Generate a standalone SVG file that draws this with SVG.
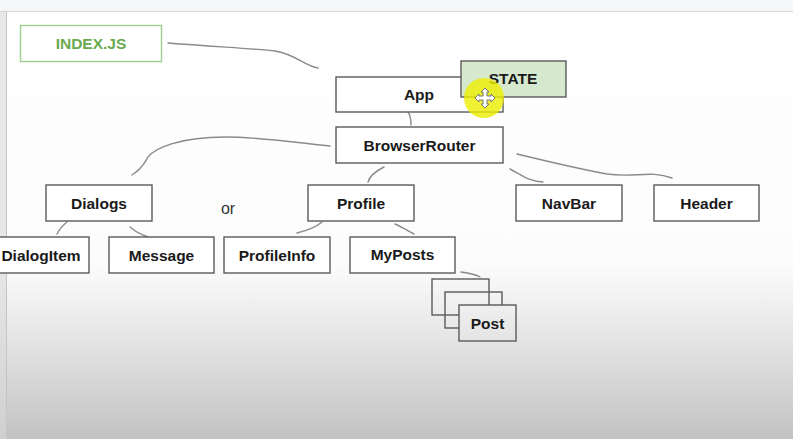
<svg xmlns="http://www.w3.org/2000/svg" width="793" height="439" viewBox="0 0 793 439">
<defs>
<linearGradient id="bg" x1="0" y1="0" x2="0" y2="439" gradientUnits="userSpaceOnUse">
<stop offset="0" stop-color="#ffffff"/>
<stop offset="0.6" stop-color="#fcfcfc"/>
<stop offset="0.72" stop-color="#ececec"/>
<stop offset="1" stop-color="#c3c3c3"/>
</linearGradient>
<style>
.box{fill:#fff;stroke:#5a5a5a;stroke-width:1.4}
.lbl{font-family:"Liberation Sans",Arial,sans-serif;font-weight:bold;font-size:15.5px;fill:#1a1a1a;text-anchor:middle}
.con{fill:none;stroke:#8a8a8a;stroke-width:1.4;stroke-linecap:round}
</style>
</defs>
<rect x="0" y="0" width="793" height="439" fill="url(#bg)"/>
<rect x="0" y="0" width="793" height="11" fill="#f6f7f9"/>
<line x1="0" y1="11.5" x2="793" y2="11.5" stroke="#d4d4d4" stroke-width="1.2"/>
<rect x="0" y="12" width="6" height="427" fill="#d8d8d8" opacity="0.6"/>
<line x1="6.5" y1="12" x2="6.5" y2="439" stroke="#c4c4c4" stroke-width="1"/>

<g id="connectors">
<path class="con" d="M168,43 C220,47 260,49 275,51 C295,54 305,66 318,68"/>
<path class="con" d="M408,112 C411,116 411,121 411,125"/>
<path class="con" d="M330,146 C300,143 260,137 225,137 C180,137 155,148 148,157 C145,162 143,168 132,175"/>
<path class="con" d="M384,167 C378,170 370,175 368,182"/>
<path class="con" d="M510,169 C522,175 530,182 543,182"/>
<path class="con" d="M517,154 C550,162 585,170 607,174 C635,178 650,170 672,178"/>
<path class="con" d="M67,222 C62,226 59,230 57,234"/>
<path class="con" d="M130,227 C137,233 142,235 148,237"/>
<path class="con" d="M322,222 C315,228 305,231 297,233"/>
<path class="con" d="M395,224 C402,227 408,231 414,234"/>
<path class="con" d="M461,272 C468,273 475,274 480,277"/>
</g>

<g id="index">
<rect x="20.5" y="25.5" width="141" height="36" fill="#fff" stroke="#9dd090" stroke-width="1.4"/>
<text x="91" y="49" class="lbl" style="fill:#6aaa50">INDEX.JS</text>
</g>
<g id="app">
<rect class="box" x="336" y="77" width="167" height="35"/>
<text x="419" y="100" class="lbl">App</text>
</g>
<g id="state">
<rect x="461" y="61" width="105" height="36" fill="#d6e9cf" stroke="#5a5a5a" stroke-width="1.4"/>
<text x="513" y="84" class="lbl">STATE</text>
</g>
<g id="browserrouter">
<rect class="box" x="336" y="127" width="167" height="36"/>
<text x="419.5" y="150.5" class="lbl">BrowserRouter</text>
</g>
<g id="dialogs">
<rect class="box" x="46" y="185" width="106" height="36"/>
<text x="99" y="208.5" class="lbl">Dialogs</text>
</g>
<g id="or">
<text x="228" y="214" style="font-family:'Liberation Sans',Arial,sans-serif;font-size:16px;fill:#333;text-anchor:middle">or</text>
</g>
<g id="profile">
<rect class="box" x="308" y="185" width="106" height="36"/>
<text x="361" y="208.5" class="lbl">Profile</text>
</g>
<g id="navbar">
<rect class="box" x="516" y="185" width="106" height="36"/>
<text x="569" y="208.5" class="lbl">NavBar</text>
</g>
<g id="header">
<rect class="box" x="654" y="185" width="105" height="36"/>
<text x="706.5" y="208.5" class="lbl">Header</text>
</g>
<g id="dialogitem">
<rect class="box" x="-6" y="237" width="95" height="36"/>
<text x="41" y="261" class="lbl">DialogItem</text>
</g>
<g id="message">
<rect class="box" x="109" y="237" width="105" height="36"/>
<text x="161.5" y="261" class="lbl">Message</text>
</g>
<g id="profileinfo">
<rect class="box" x="224" y="237" width="106" height="36"/>
<text x="277" y="261" class="lbl">ProfileInfo</text>
</g>
<g id="myposts">
<rect class="box" x="350" y="237" width="105" height="36"/>
<text x="402.5" y="260" class="lbl">MyPosts</text>
</g>
<g id="post">
<rect x="432" y="279" width="57" height="36" fill="none" stroke="#5a5a5a" stroke-width="1.4"/>
<rect x="445" y="292" width="57" height="36" fill="none" stroke="#5a5a5a" stroke-width="1.4"/>
<rect x="459" y="305" width="57" height="36" fill="url(#bg)" stroke="#5a5a5a" stroke-width="1.4"/>
<text x="487.5" y="329" class="lbl">Post</text>
</g>

<g id="cursor">
<circle cx="484" cy="98" r="20" fill="#eeee00" opacity="0.8"/>
<path d="M485,88 L489,92 L487,92 L487,96 L491,96 L491,94 L495,98 L491,102 L491,100 L487,100 L487,104 L489,104 L485,108 L481,104 L483,104 L483,100 L479,100 L479,102 L475,98 L479,94 L479,96 L483,96 L483,92 L481,92 Z" fill="#fff" stroke="#777" stroke-width="1"/>
</g>
</svg>
